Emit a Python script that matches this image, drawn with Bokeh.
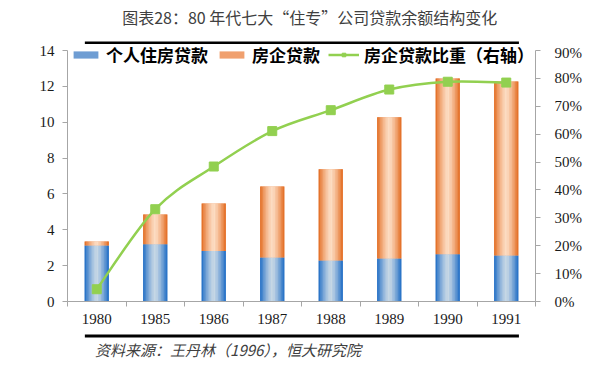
import numpy as np
from bokeh.plotting import figure
from bokeh.models import (ColumnDataSource, Range1d, LinearAxis, FixedTicker,
                          NumeralTickFormatter, Legend, LegendItem)
from bokeh.layouts import column
from bokeh.embed import file_html
from bokeh.resources import INLINE
from bokeh.core.properties import value

# ---------------- data ----------------
years = ["1980", "1985", "1986", "1987", "1988", "1989", "1990", "1991"]
personal = [3.12, 3.20, 2.81, 2.45, 2.29, 2.40, 2.64, 2.57]      # 个人住房贷款
developer = [0.23, 1.65, 2.66, 3.96, 5.09, 7.88, 9.80, 9.70]     # 房企贷款
dev_share = [0.044, 0.331, 0.484, 0.611, 0.686, 0.760, 0.788, 0.785]  # 房企贷款比重
left_ticks = [0, 2, 4, 6, 8, 10, 12, 14]
right_ticks = [0.0, 0.1, 0.2, 0.3, 0.4, 0.5, 0.6, 0.7, 0.8, 0.9]
title_text = "图表28：80 年代七大“住专”公司贷款余额结构变化"
source_text = "资料来源：王丹林（1996），恒大研究院"
legend_labels = ["个人住房贷款", "房企贷款", "房企贷款比重（右轴）"]

# ---------------- style ----------------
W = 593
CJK = "Noto Sans CJK SC"
SERIF = "Liberation Serif"
AXIS_GRAY = "#A6A6A6"
GREEN = "#92D050"
BLUE_EDGE, BLUE_MID = "#1C6CC5", "#CAD9E6"
ORANGE_EDGE, ORANGE_MID = "#E2691D", "#FDDEC5"
BAR_W = 0.41
N_SLICES = 16
# frame is a bit taller than the axes (room for the legend above the 14 / 90% tick)
AXIS_PX, FRAME_PX = 251, 257
STRETCH = FRAME_PX / AXIS_PX


def hex2rgb(h):
    h = h.lstrip("#")
    return [int(h[i:i + 2], 16) for i in (0, 2, 4)]


def mix(c_mid, c_edge, t):
    a, b = hex2rgb(c_mid), hex2rgb(c_edge)
    return "#%02x%02x%02x" % tuple(int(round(a[j] + (b[j] - a[j]) * t)) for j in range(3))


# gradient-filled stacked bars built from narrow slices
xs, bots, tops, cols = [], [], [], []
for i in range(len(years)):
    for k in range(N_SLICES):
        f = (k + 0.5) / N_SLICES - 0.5
        t = min(1.0, abs(f) * 2) ** 1.4
        off = f * BAR_W
        xs.append(i + off); bots.append(0); tops.append(personal[i]); cols.append(mix(BLUE_MID, BLUE_EDGE, t))
        xs.append(i + off); bots.append(personal[i]); tops.append(personal[i] + developer[i])
        cols.append(mix(ORANGE_MID, ORANGE_EDGE, t))
bar_src = ColumnDataSource(dict(x=xs, bottom=bots, top=tops, color=cols))

# ---------------- top figure: title + rule ----------------
TOP_H = 44
top = figure(width=W, height=TOP_H, x_range=Range1d(0, W), y_range=Range1d(0, TOP_H),
             output_backend="svg", toolbar_location=None, min_border=0,
             x_axis_location=None, y_axis_location=None, outline_line_color=None)
top.grid.visible = False
top.title.visible = False
top.text(x=[307], y=[TOP_H - 16], text=[title_text], text_align="center", text_baseline="middle",
         text_font=value(CJK), text_font_size="16px", text_color="#404040")
top.segment(x0=[22], y0=[1.5], x1=[572], y1=[1.5], line_width=3, line_color="black")

# ---------------- main figure ----------------
px = list(range(len(years)))
n = len(px)
p = figure(width=W, height=286, x_range=Range1d(-0.5, n - 0.5),
           y_range=Range1d(0, left_ticks[-1] * STRETCH),
           output_backend="svg", toolbar_location=None,
           min_border_left=67, min_border_right=58, min_border_top=0, min_border_bottom=29)
p.outline_line_color = None
p.grid.visible = False
p.title.visible = False
p.extra_y_ranges = {"pct": Range1d(0, right_ticks[-1] * STRETCH)}

# solid bars (legend swatches), covered by the gradient slices
blue_r = p.vbar(x=px, bottom=0, top=personal, width=BAR_W, fill_color="#6E9DD3", line_color=None)
stack_top = [a + b for a, b in zip(personal, developer)]
orange_r = p.vbar(x=px, bottom=personal, top=stack_top, width=BAR_W, fill_color="#F0A06E",
                  line_color=None)
p.vbar(x="x", bottom="bottom", top="top", width=BAR_W / N_SLICES * 1.2,
       fill_color="color", line_color=None, source=bar_src)

# smoothed share line (Excel-like), drawn as cubic Bezier segments between data points
b = dict(x0=[], y0=[], x1=[], y1=[], cx0=[], cy0=[], cx1=[], cy1=[])
for i in range(n - 1):
    i0, i3 = max(i - 1, 0), min(i + 2, n - 1)
    b["x0"].append(px[i]); b["y0"].append(dev_share[i])
    b["x1"].append(px[i + 1]); b["y1"].append(dev_share[i + 1])
    b["cx0"].append(px[i] + (px[i + 1] - px[i0]) / 6)
    b["cy0"].append(dev_share[i] + (dev_share[i + 1] - dev_share[i0]) / 6)
    b["cx1"].append(px[i + 1] - (px[i3] - px[i]) / 6)
    b["cy1"].append(dev_share[i + 1] - (dev_share[i3] - dev_share[i]) / 6)
line_r = p.bezier(x0="x0", y0="y0", x1="x1", y1="y1", cx0="cx0", cy0="cy0", cx1="cx1", cy1="cy1",
                  line_color=GREEN, line_width=2.5, y_range_name="pct", source=ColumnDataSource(b))
sc = p.scatter(px, dev_share, marker="square", size=9, fill_color=GREEN, line_color=GREEN,
               y_range_name="pct")

# axes
xa = p.xaxis[0]
xa.ticker = FixedTicker(ticks=px, minor_ticks=[i - 0.5 for i in range(n + 1)])
xa.major_label_overrides = {i: y for i, y in enumerate(years)}
xa.major_tick_line_color = None
xa.minor_tick_line_color = AXIS_GRAY
xa.minor_tick_in = 0
xa.minor_tick_out = 5
xa.axis_line_color = AXIS_GRAY
xa.major_label_standoff = 6

ya = p.yaxis[0]
ya.ticker = FixedTicker(ticks=left_ticks)
ya.bounds = (left_ticks[0], left_ticks[-1])
ya.minor_tick_line_color = None
ya.major_tick_in = 0
ya.major_tick_out = 5
ya.major_tick_line_color = AXIS_GRAY
ya.axis_line_color = AXIS_GRAY
ya.major_label_standoff = 8

ra = LinearAxis(y_range_name="pct", ticker=FixedTicker(ticks=right_ticks),
                formatter=NumeralTickFormatter(format="0%"),
                bounds=(right_ticks[0], right_ticks[-1]))
ra.minor_tick_line_color = None
ra.major_tick_in = 0
ra.major_tick_out = 5
ra.major_tick_line_color = AXIS_GRAY
ra.axis_line_color = AXIS_GRAY
ra.major_label_standoff = 14
p.add_layout(ra, "right")

for ax in (xa, ya, ra):
    ax.major_label_text_font = SERIF
    ax.major_label_text_font_size = "15px"
    ax.major_label_text_color = "#1a1a1a"

legend = Legend(items=[LegendItem(label=legend_labels[0], renderers=[blue_r]),
                       LegendItem(label=legend_labels[1], renderers=[orange_r]),
                       LegendItem(label=legend_labels[2], renderers=[line_r, sc])],
                orientation="horizontal", location=(3, 234),
                label_text_font=CJK, label_text_font_size="17px", label_text_font_style="bold",
                label_text_color="black", glyph_width=31, glyph_height=9, label_height=18,
                label_standoff=5, spacing=8, padding=0, margin=0,
                border_line_color=None, background_fill_alpha=0)
p.add_layout(legend)

# ---------------- bottom figure: rule + source ----------------
BOT_H = 36
bot = figure(width=W, height=BOT_H, x_range=Range1d(0, W), y_range=Range1d(0, BOT_H),
             output_backend="svg", toolbar_location=None, min_border=0,
             x_axis_location=None, y_axis_location=None, outline_line_color=None)
bot.grid.visible = False
bot.title.visible = False
bot.segment(x0=[22], y0=[BOT_H - 5.5], x1=[572], y1=[BOT_H - 5.5], line_width=3, line_color="black")
bot.text(x=[35], y=[BOT_H - 19], text=[source_text], text_align="left", text_baseline="middle",
         text_font=value(CJK), text_font_size="15px", text_font_style="italic",
         text_color="#404040")

layout = column(top, p, bot, spacing=0)
open("out.html", "w").write(file_html(layout, INLINE))
